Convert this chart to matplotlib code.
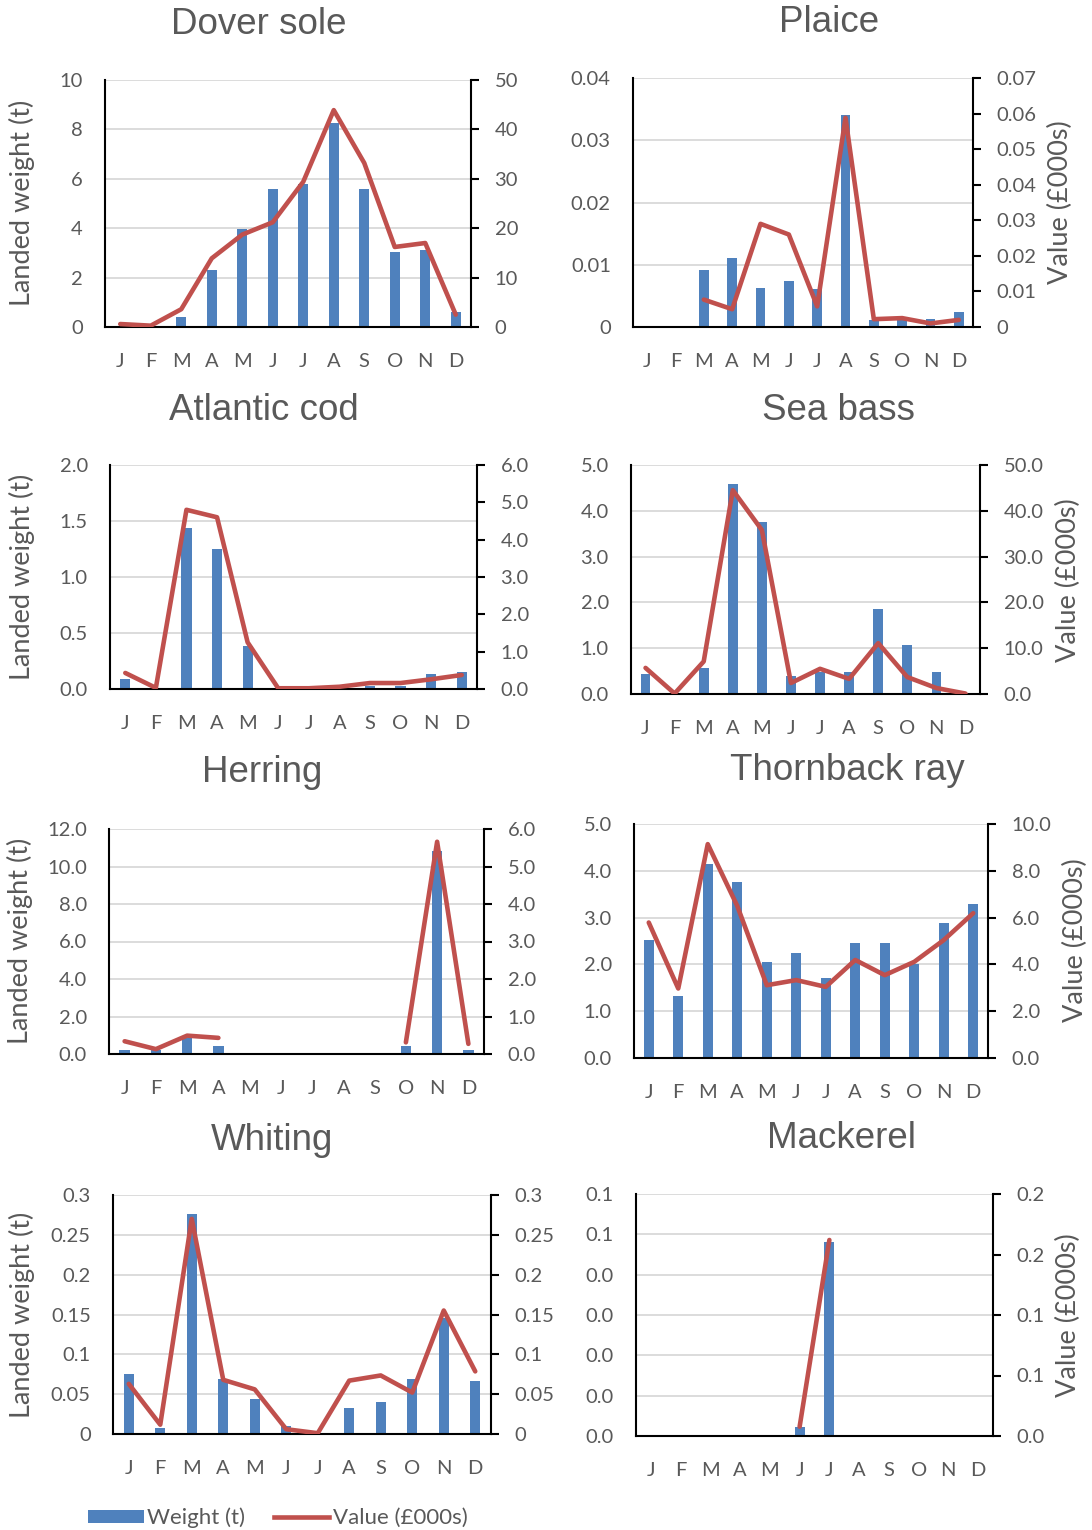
import numpy as np
import matplotlib
matplotlib.use("Agg")
import matplotlib.pyplot as plt
from matplotlib.ticker import FuncFormatter, FixedLocator
from matplotlib.patches import Patch
from matplotlib.lines import Line2D
from decimal import Decimal, ROUND_HALF_UP

nan = np.nan
months = ["J", "F", "M", "A", "M", "J", "J", "A", "S", "O", "N", "D"]

# monthly landed weight (t) and value (£000s) per species
dover_weight = [0, 0, 0.4, 2.29, 3.96, 5.58, 5.8, 8.27, 5.58, 3.02, 3.1, 0.59]
dover_value = [0.6, 0.27, 3.6, 13.9, 18.7, 21.2, 29.4, 43.9, 33.2, 16.2, 17.0, 2.5]

plaice_weight = [0, 0, 0.0091, 0.0111, 0.0062, 0.0074, 0.0061, 0.0341, 0.0012, 0.0012, 0.0013, 0.0024]
plaice_value = [nan, nan, 0.0077, 0.005, 0.029, 0.026, 0.0058, 0.0588, 0.0022, 0.0025, 0.001, 0.002]

cod_weight = [0.09, 0, 1.44, 1.25, 0.38, 0, 0, 0, 0.024, 0.03, 0.137, 0.155]
cod_value = [0.43, 0.03, 4.8, 4.6, 1.25, 0.02, 0.02, 0.06, 0.16, 0.16, 0.26, 0.375]

bass_weight = [0.44, 0, 0.56, 4.59, 3.75, 0.4, 0.49, 0.48, 1.85, 1.07, 0.48, 0]
bass_value = [5.7, 0.1, 7.1, 44.5, 35.8, 2.4, 5.5, 3.3, 11.1, 3.7, 1.3, 0.1]

herring_weight = [0.23, 0.2, 0.85, 0.41, 0, 0, 0, 0, 0, 0.44, 10.83, 0.23]
herring_value = [0.34, 0.13, 0.49, 0.43, nan, nan, nan, nan, nan, 0.31, 5.66, 0.27]

ray_weight = [2.52, 1.32, 4.15, 3.76, 2.06, 2.25, 1.7, 2.45, 2.45, 2.0, 2.88, 3.29]
ray_value = [5.79, 2.97, 9.14, 6.5, 3.11, 3.33, 3.04, 4.19, 3.54, 4.11, 5.04, 6.19]

whiting_weight = [0.0756, 0.0075, 0.276, 0.069, 0.044, 0.0096, 0, 0.0326, 0.0397, 0.069, 0.146, 0.067]
whiting_value = [0.063, 0.0117, 0.27, 0.068, 0.056, 0.006, 0.001, 0.067, 0.0735, 0.052, 0.155, 0.0786]

mackerel_weight = [0, 0, 0, 0, 0, 0.0023, 0.048, 0, 0, 0, 0, 0]
mackerel_value = [nan, nan, nan, nan, nan, 0.0077, 0.162, nan, nan, nan, nan, nan]

BLUE = "#4F81BD"
RED = "#C0504D"
GREY = "#595959"
W, H = 1092, 1530

plt.rcParams["font.family"] = ["Lato", "DejaVu Sans"]


def fmt_general(v, _pos):
    return f"{round(v, 6):g}"


def fmt_one(v, _pos):
    # Excel style rounding, 0.05 -> 0.1, 0.15 -> 0.2
    d = Decimal(str(round(v, 6))).quantize(Decimal("0.1"), rounding=ROUND_HALF_UP)
    return f"{d}"


fig = plt.figure(figsize=(W / 100, H / 100), dpi=100)
x = np.arange(12)


def panel(box, title, title_xy, weight, value, lmax, lstep, rmax, rstep,
          lfmt, rfmt, ylabel_side, ylabel_xy):
    l, r, t, b = box
    ax = fig.add_axes([l / W, 1 - b / H, (r - l) / W, (b - t) / H])
    ax2 = ax.twinx()

    ax.bar(x, weight, width=0.33, color=BLUE, zorder=2)
    ax2.plot(x, value, color=RED, lw=3.3, solid_joinstyle="round",
             solid_capstyle="round", zorder=3)

    ax.set_xlim(-0.5, 11.5)
    ax.set_ylim(0, lmax)
    ax2.set_ylim(0, rmax)
    ax.yaxis.set_major_locator(FixedLocator(np.arange(0, lmax + lstep / 2, lstep)))
    ax2.yaxis.set_major_locator(FixedLocator(np.arange(0, rmax + rstep / 2, rstep)))
    ax.yaxis.set_major_formatter(FuncFormatter(lfmt))
    ax2.yaxis.set_major_formatter(FuncFormatter(rfmt))
    ax.set_xticks(x)
    ax.set_xticklabels(months)

    ax.set_axisbelow(True)
    ax.yaxis.grid(True, color="#D9D9D9", lw=1.3)
    for s in ["top", "right"]:
        ax.spines[s].set_visible(False)
    for s in ["top", "left", "bottom"]:
        ax2.spines[s].set_visible(False)
    for sp in [ax.spines["left"], ax.spines["bottom"], ax2.spines["right"]]:
        sp.set_color("black")
        sp.set_linewidth(1.5)

    ax.tick_params(axis="y", length=0, pad=16, labelsize=14.5, labelcolor=GREY)
    ax.tick_params(axis="x", length=0, pad=19, labelsize=14.5, labelcolor=GREY)
    ax2.tick_params(axis="y", direction="out", length=6, width=1.5,
                    pad=11, labelsize=14.5, labelcolor=GREY)

    fig.text(title_xy[0] / W, 1 - title_xy[1] / H, title, ha="center", va="center",
             fontsize=26.5, color=GREY, family="Liberation Sans")
    label = "Landed weight (t)" if ylabel_side == "left" else "Value (£000s)"
    fig.text(ylabel_xy[0] / W, 1 - ylabel_xy[1] / H, label, rotation=90,
             ha="center", va="center", fontsize=19.5, color=GREY)
    return ax


panel((105, 471, 80, 327), "Dover sole", (259, 25), dover_weight, dover_value,
      10, 2, 50, 10, fmt_general, fmt_general, "left", (22, 203))
panel((633, 973, 78, 327), "Plaice", (829, 22), plaice_weight, plaice_value,
      0.04, 0.01, 0.07, 0.01, fmt_general, fmt_general, "right", (1060, 202))
panel((110, 477, 465, 689), "Atlantic cod", (264, 410), cod_weight, cod_value,
      2.0, 0.5, 6.0, 1.0, fmt_one, fmt_one, "left", (22, 577))
panel((631, 980, 465, 694), "Sea bass", (838, 410), bass_weight, bass_value,
      5.0, 1.0, 50.0, 10.0, fmt_one, fmt_one, "right", (1068, 580))
panel((109, 484, 829, 1054), "Herring", (262, 773), herring_weight, herring_value,
      12.0, 2.0, 6.0, 1.0, fmt_one, fmt_one, "left", (20, 941))
panel((634, 988, 824, 1058), "Thornback ray", (847, 770), ray_weight, ray_value,
      5.0, 1.0, 10.0, 2.0, fmt_one, fmt_one, "right", (1075, 940))
panel((113, 491, 1195, 1434), "Whiting", (272, 1140), whiting_weight, whiting_value,
      0.3, 0.05, 0.3, 0.05, fmt_general, fmt_general, "left", (22, 1315))
panel((636, 993, 1194, 1436), "Mackerel", (841, 1138), mackerel_weight, mackerel_value,
      0.06, 0.01, 0.2, 0.05, fmt_one, fmt_one, "right", (1068, 1315))

handles = [Patch(facecolor=BLUE, edgecolor="none"),
           Line2D([], [], color=RED, lw=3.3)]
fig.legend(handles, ["Weight (t)", "Value (£000s)"], loc="center left",
           bbox_to_anchor=(88 / W, 1 - 1518 / H), ncol=2, frameon=False,
           fontsize=16, labelcolor=GREY, handlelength=2.5, handleheight=0.55,
           handletextpad=0.15, columnspacing=1.3, borderpad=0, borderaxespad=0)

fig.savefig("out.png", dpi=100)
